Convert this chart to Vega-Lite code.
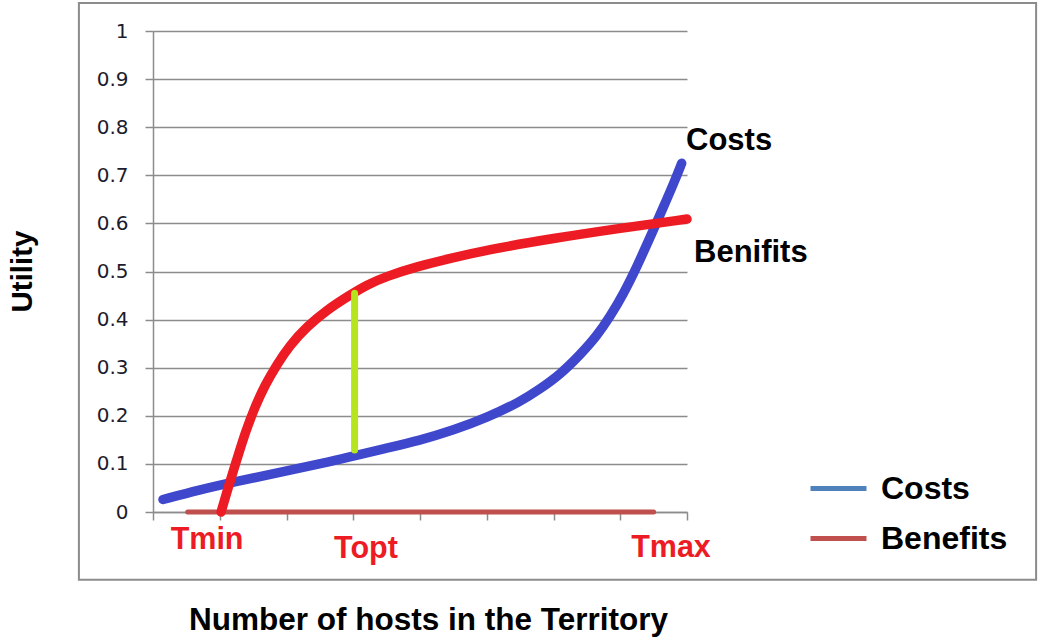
{
  "$schema": "https://vega.github.io/schema/vega-lite/v6.json",
  "width": 534,
  "height": 481,
  "autosize": {"type": "none"},
  "padding": {"left": 153, "top": 31, "right": 353, "bottom": 126},
  "background": "white",
  "config": {
    "view": {"stroke": null},
    "axis": {"labelFont": "DejaVu Sans", "titleFont": "Liberation Sans"}
  },
  "datasets": {
    "box": [{"x": -1.11, "x2": 13.23, "y": 1.058, "y2": -0.141}],
    "base": [
      {"series": "Benefits", "x": 0.52, "y": 0},
      {"series": "Benefits", "x": 7.5, "y": 0}
    ],
    "costs": [
      {"x": 0.15, "y": 0.026},
      {"x": 0.7, "y": 0.046},
      {"x": 1.2, "y": 0.062},
      {"x": 1.95, "y": 0.084},
      {"x": 2.7, "y": 0.106},
      {"x": 3.03, "y": 0.117},
      {"x": 3.45, "y": 0.131},
      {"x": 4.0, "y": 0.149},
      {"x": 4.5, "y": 0.17},
      {"x": 5.0, "y": 0.196},
      {"x": 5.5, "y": 0.229},
      {"x": 5.8, "y": 0.256},
      {"x": 6.1, "y": 0.286},
      {"x": 6.4, "y": 0.327},
      {"x": 6.65, "y": 0.366},
      {"x": 6.85, "y": 0.407},
      {"x": 7.05, "y": 0.454},
      {"x": 7.25, "y": 0.51},
      {"x": 7.45, "y": 0.572},
      {"x": 7.65, "y": 0.635},
      {"x": 7.8, "y": 0.683},
      {"x": 7.92, "y": 0.725}
    ],
    "benefits": [
      {"x": 1.02, "y": 0.0},
      {"x": 1.13, "y": 0.053},
      {"x": 1.254, "y": 0.108},
      {"x": 1.378, "y": 0.164},
      {"x": 1.528, "y": 0.219},
      {"x": 1.678, "y": 0.264},
      {"x": 1.853, "y": 0.306},
      {"x": 2.052, "y": 0.347},
      {"x": 2.303, "y": 0.385},
      {"x": 2.602, "y": 0.42},
      {"x": 2.95, "y": 0.451},
      {"x": 3.2, "y": 0.472},
      {"x": 3.5, "y": 0.49},
      {"x": 3.95, "y": 0.51},
      {"x": 4.45, "y": 0.527},
      {"x": 5.0, "y": 0.545},
      {"x": 6.0, "y": 0.569},
      {"x": 7.0, "y": 0.59},
      {"x": 8.0, "y": 0.609}
    ],
    "gap": [{"x": 3.02, "y": 0.129, "y2": 0.455}],
    "curveNotes": [
      {"label": "Costs", "x": 7.985, "y": 0.771},
      {"label": "Benifits", "x": 8.105, "y": 0.538}
    ],
    "thresholds": [
      {"label": "Tmin", "x": 0.81, "y": -0.058},
      {"label": "Topt", "x": 3.19, "y": -0.077},
      {"label": "Tmax", "x": 7.76, "y": -0.075}
    ]
  },
  "layer": [
    {
      "data": {"name": "box"},
      "mark": {"type": "rect", "fill": null, "stroke": "#8c8c8c", "strokeWidth": 2},
      "encoding": {
        "x": {"field": "x", "type": "quantitative", "scale": {"domain": [0, 8], "nice": false}},
        "x2": {"field": "x2"},
        "y": {"field": "y", "type": "quantitative", "scale": {"domain": [0, 1], "nice": false}},
        "y2": {"field": "y2"}
      }
    },
    {
      "data": {"name": "base"},
      "mark": {"type": "line", "strokeWidth": 5, "strokeCap": "round"},
      "encoding": {
        "x": {
          "field": "x", "type": "quantitative",
          "scale": {"domain": [0, 8], "nice": false},
          "axis": {
            "values": [0, 1, 2, 3, 4, 5, 6, 7, 8],
            "labels": false,
            "grid": false,
            "tickSize": 8,
            "tickColor": "#8c8c8c",
            "tickWidth": 1.5,
            "domainColor": "#8c8c8c",
            "domainWidth": 1.5,
            "title": "Number of hosts in the Territory",
            "titleFontSize": 31.5,
            "titleFontWeight": "bold",
            "titleColor": "#000000",
            "titleX": 275,
            "titleY": 108,
            "titleAlign": "center",
            "titleBaseline": "middle"
          }
        },
        "y": {
          "field": "y", "type": "quantitative",
          "scale": {"domain": [0, 1], "nice": false},
          "axis": {
            "values": [0, 0.1, 0.2, 0.3, 0.4, 0.5, 0.6, 0.7, 0.8, 0.9, 1],
            "format": ".1~f",
            "grid": true,
            "gridColor": "#8c8c8c",
            "gridWidth": 1.5,
            "tickSize": 8,
            "tickColor": "#8c8c8c",
            "tickWidth": 1.5,
            "domainColor": "#8c8c8c",
            "domainWidth": 1.5,
            "labelFont": "DejaVu Sans",
            "labelFontSize": 20,
            "labelColor": "#1c1c2c",
            "labelPadding": 17,
            "title": "Utility",
            "titleFontSize": 29.5,
            "titleFontWeight": "bold",
            "titleColor": "#000000",
            "titleAngle": -90,
            "titleX": -131,
            "titleY": 240,
            "titleAlign": "center",
            "titleBaseline": "middle"
          }
        },
        "color": {
          "field": "series", "type": "nominal",
          "scale": {"domain": ["Costs", "Benefits"], "range": ["#4f81bd", "#c0504d"]},
          "legend": {
            "title": null,
            "orient": "none",
            "legendX": 655,
            "legendY": 427,
            "symbolType": "stroke",
            "symbolSize": 3136,
            "symbolStrokeWidth": 5,
            "labelFont": "Liberation Sans",
            "labelFontSize": 32,
            "labelFontWeight": "bold",
            "labelColor": "#000000",
            "labelOffset": 12,
            "rowPadding": 3,
            "padding": 0,
            "labelLimit": 300,
            "symbolOffset": 0
          }
        }
      }
    },
    {
      "data": {"name": "costs"},
      "mark": {"type": "line", "color": "#3f48cc", "strokeWidth": 9.5, "strokeCap": "round", "interpolate": "basis"},
      "encoding": {
        "x": {"field": "x", "type": "quantitative"},
        "y": {"field": "y", "type": "quantitative"}
      }
    },
    {
      "data": {"name": "benefits"},
      "mark": {"type": "line", "color": "#ed1c24", "strokeWidth": 9.5, "strokeCap": "round", "interpolate": "basis"},
      "encoding": {
        "x": {"field": "x", "type": "quantitative"},
        "y": {"field": "y", "type": "quantitative"}
      }
    },
    {
      "data": {"name": "gap"},
      "mark": {"type": "rule", "color": "#b5e61d", "strokeWidth": 7, "strokeCap": "round"},
      "encoding": {
        "x": {"field": "x", "type": "quantitative"},
        "y": {"field": "y", "type": "quantitative"},
        "y2": {"field": "y2"}
      }
    },
    {
      "data": {"name": "curveNotes"},
      "mark": {"type": "text", "font": "Liberation Sans", "fontSize": 31, "fontWeight": "bold", "color": "#000000", "align": "left", "baseline": "middle"},
      "encoding": {
        "x": {"field": "x", "type": "quantitative"},
        "y": {"field": "y", "type": "quantitative"},
        "text": {"field": "label"}
      }
    },
    {
      "data": {"name": "thresholds"},
      "mark": {"type": "text", "font": "Liberation Sans", "fontSize": 30.5, "fontWeight": "bold", "color": "#ed1c24", "align": "center", "baseline": "middle"},
      "encoding": {
        "x": {"field": "x", "type": "quantitative"},
        "y": {"field": "y", "type": "quantitative"},
        "text": {"field": "label"}
      }
    }
  ]
}
